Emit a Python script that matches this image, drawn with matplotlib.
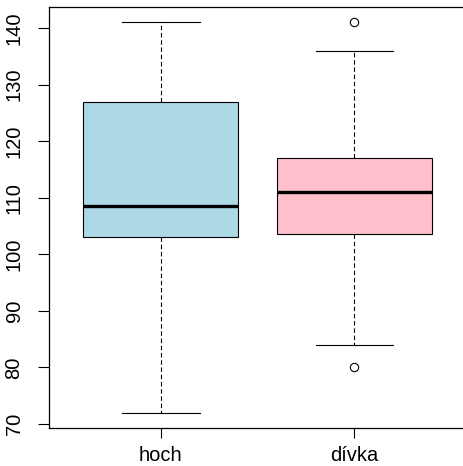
import matplotlib
matplotlib.use("Agg")
import matplotlib.pyplot as plt

categories = ["hoch", "dívka"]
whisker_low = [72, 84]
q1 = [103, 103.5]
median = [108.5, 111]
q3 = [127, 117]
whisker_high = [141, 136]
outliers = [[], [141, 80]]
colors = ["#ADD8E6", "#FFC0CB"]
yticks = [70, 80, 90, 100, 110, 120, 130, 140]

plt.rcParams['font.family'] = ['Liberation Sans', 'DejaVu Sans']

fig = plt.figure(figsize=(4.64, 4.66), dpi=100)
ax = fig.add_axes([0.1047, 0.0809, 0.9009, 0.9047])

stats = []
for i, c in enumerate(categories):
    stats.append(dict(label=c, whislo=whisker_low[i], q1=q1[i], med=median[i],
                      q3=q3[i], whishi=whisker_high[i], fliers=outliers[i]))

bp = ax.bxp(stats, positions=[1, 2], widths=0.8, capwidths=0.4,
            patch_artist=True, showfliers=True,
            boxprops=dict(edgecolor='black', linewidth=0.8),
            medianprops=dict(color='black', linewidth=2.4, solid_capstyle='butt'),
            whiskerprops=dict(color='black', linewidth=0.8, linestyle=(0, (4, 2.5))),
            capprops=dict(color='black', linewidth=0.8),
            flierprops=dict(marker='o', markerfacecolor='white', markeredgecolor='black',
                            markersize=6, markeredgewidth=0.8, linestyle='none'))
for patch, col in zip(bp['boxes'], colors):
    patch.set_facecolor(col)

ax.set_xlim(0.42, 2.58)
ax.set_ylim(69.24, 143.76)
ax.set_yticks(yticks)
ax.set_yticklabels([str(t) for t in yticks], rotation=90, va='center')
ax.set_xticks([1, 2])
ax.set_xticklabels(categories)
ax.tick_params(axis='y', length=8, width=0.8, pad=10, labelsize=14.5)
ax.tick_params(axis='x', length=7, width=0.8, pad=6, labelsize=14.5)
for s in ax.spines.values():
    s.set_linewidth(0.9)
ax.spines['right'].set_visible(False)

fig.savefig("out.png", dpi=100)
